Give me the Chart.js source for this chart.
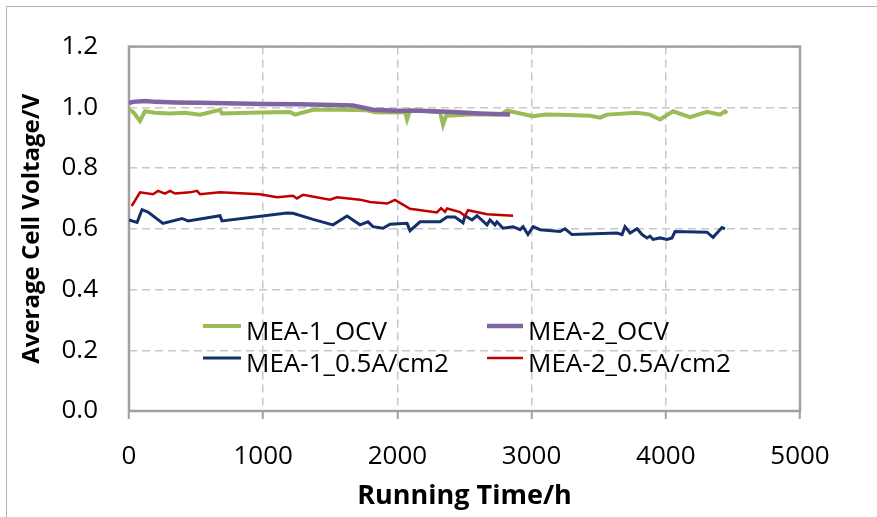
<!DOCTYPE html>
<html><head><meta charset="utf-8">
<script src="https://cdn.jsdelivr.net/npm/chart.js@4"></script>
<style>html,body{margin:0;padding:0;background:#fff;}canvas{display:block;}</style>
</head><body>
<canvas id="c" width="877" height="517"></canvas>
<script>
const seriesNames = ["MEA-1_OCV", "MEA-2_OCV", "MEA-1_0.5A/cm2", "MEA-2_0.5A/cm2"];

const mea1OcvTime = [0, 30, 82, 119, 194, 306, 417, 529, 678, 693, 976, 1200, 1237, 1371, 1572, 1774, 1833, 2019, 2057, 2072, 2094, 2206, 2318, 2340, 2362, 2541, 2765, 2817, 2891, 3011, 3100, 3286, 3435, 3510, 3562, 3786, 3882, 3957, 4054, 4181, 4307, 4404, 4441, 4456];
const mea1OcvVolt = [0.992, 0.985, 0.955, 0.987, 0.982, 0.980, 0.982, 0.976, 0.992, 0.980, 0.983, 0.985, 0.976, 0.992, 0.992, 0.990, 0.984, 0.983, 0.985, 0.960, 0.990, 0.988, 0.984, 0.943, 0.972, 0.976, 0.976, 0.989, 0.982, 0.971, 0.976, 0.975, 0.972, 0.966, 0.976, 0.982, 0.976, 0.960, 0.987, 0.968, 0.985, 0.976, 0.987, 0.980];

const mea2OcvTime = [0, 30, 119, 200, 350, 529, 999, 1274, 1520, 1669, 1818, 1997, 2169, 2414, 2616, 2839];
const mea2OcvVolt = [1.014, 1.018, 1.021, 1.018, 1.016, 1.015, 1.011, 1.010, 1.008, 1.006, 0.992, 0.989, 0.989, 0.985, 0.980, 0.976];

const mea1LoadTime = [0, 60, 97, 142, 253, 395, 440, 678, 693, 1177, 1222, 1371, 1520, 1625, 1721, 1781, 1818, 1893, 1945, 2072, 2094, 2169, 2318, 2370, 2429, 2489, 2504, 2556, 2593, 2668, 2690, 2727, 2742, 2787, 2862, 2914, 2936, 2973, 3011, 3063, 3212, 3249, 3301, 3637, 3674, 3696, 3734, 3786, 3823, 3860, 3882, 3905, 3957, 4009, 4046, 4069, 4307, 4352, 4419, 4441];
const mea1LoadVolt = [0.629, 0.621, 0.663, 0.655, 0.618, 0.634, 0.626, 0.643, 0.626, 0.652, 0.651, 0.631, 0.613, 0.642, 0.613, 0.623, 0.607, 0.602, 0.615, 0.618, 0.594, 0.623, 0.623, 0.639, 0.639, 0.620, 0.643, 0.629, 0.643, 0.613, 0.629, 0.613, 0.623, 0.602, 0.607, 0.597, 0.607, 0.581, 0.607, 0.597, 0.591, 0.600, 0.581, 0.586, 0.581, 0.607, 0.586, 0.600, 0.581, 0.570, 0.576, 0.565, 0.570, 0.565, 0.570, 0.591, 0.589, 0.572, 0.604, 0.600];

const mea2LoadTime = [20, 82, 179, 216, 268, 306, 343, 455, 507, 529, 678, 976, 1103, 1222, 1252, 1297, 1498, 1550, 1721, 1796, 1923, 1982, 2094, 2295, 2325, 2355, 2370, 2467, 2504, 2526, 2668, 2862];
const mea2LoadVolt = [0.675, 0.720, 0.714, 0.725, 0.716, 0.725, 0.716, 0.720, 0.725, 0.714, 0.720, 0.714, 0.704, 0.709, 0.700, 0.712, 0.696, 0.704, 0.696, 0.688, 0.683, 0.695, 0.666, 0.654, 0.668, 0.656, 0.667, 0.655, 0.642, 0.661, 0.648, 0.643];

const xTickValues = [0, 1000, 2000, 3000, 4000, 5000];
const yTickValues = [0, 0.2, 0.4, 0.6, 0.8, 1.0, 1.2];
const xTitle = "Running Time/h";
const yTitle = "Average Cell Voltage/V";

const toPts = (t, v) => t.map((x, i) => ({x: x, y: v[i]}));

const framePlugin = {
  id: 'frame',
  beforeDraw(chart) {
    const c = chart.ctx;
    c.save();
    c.fillStyle = '#fff';
    c.fillRect(0, 0, chart.width, chart.height);
    c.strokeStyle = '#b4b4b4';
    c.lineWidth = 1;
    c.strokeRect(6.5, 6.5, chart.width + 20, chart.height + 20);
    c.restore();
  },
  beforeDatasetsDraw(chart) {
    const c = chart.ctx, a = chart.chartArea;
    c.save();
    c.strokeStyle = '#a0a0a0';
    c.lineWidth = 2.5;
    c.strokeRect(a.left, a.top, a.right - a.left, a.bottom - a.top);
    c.restore();
  },
  afterDraw(chart) {
    const c = chart.ctx;
    const slots = [[203, 326, 38], [487, 326, 36], [203, 358, 38], [487, 358, 36]];
    c.save();
    c.font = "26px 'Open Sans'";
    c.fillStyle = '#000';
    c.textBaseline = 'alphabetic';
    chart.data.datasets.forEach((ds, i) => {
      const [x, y, len] = slots[i];
      c.strokeStyle = ds.borderColor;
      c.lineWidth = ds.borderWidth;
      c.beginPath();
      c.moveTo(x, y);
      c.lineTo(x + len, y);
      c.stroke();
      c.fillText(ds.label, x + len + 5, y + 13.5);
    });
    c.restore();
  }
};

Chart.defaults.font.family = "'Open Sans'";
Chart.defaults.color = '#000';

new Chart(document.getElementById('c'), {
  type: 'scatter',
  data: {
    datasets: [
      {label: seriesNames[0], data: toPts(mea1OcvTime, mea1OcvVolt), borderColor: '#9BBB59', borderWidth: 4, showLine: true, pointRadius: 0, tension: 0, order: 3},
      {label: seriesNames[1], data: toPts(mea2OcvTime, mea2OcvVolt), borderColor: '#8064A2', borderWidth: 4.5, showLine: true, pointRadius: 0, tension: 0, order: 2},
      {label: seriesNames[2], data: toPts(mea1LoadTime, mea1LoadVolt), borderColor: '#14306A', borderWidth: 3, showLine: true, pointRadius: 0, tension: 0, order: 1},
      {label: seriesNames[3], data: toPts(mea2LoadTime, mea2LoadVolt), borderColor: '#C00000', borderWidth: 2.5, showLine: true, pointRadius: 0, tension: 0, order: 0}
    ]
  },
  options: {
    responsive: false,
    animation: false,
    devicePixelRatio: 1,
    layout: {padding: {left: 0, top: 37, right: 77, bottom: 0}},
    plugins: {legend: {display: false}, tooltip: {enabled: false}},
    scales: {
      x: {
        type: 'linear', min: 0, max: 5000,
        afterBuildTicks: s => { s.ticks = xTickValues.map(v => ({value: v})); },
        afterFit: s => { s.height = 106; },
        ticks: {callback: v => String(v), font: {size: 26}, color: '#000', padding: 22, maxRotation: 0, autoSkip: false},
        grid: {color: '#c8c8c8', lineWidth: 1.5, tickLength: 8, tickColor: '#a0a0a0', tickWidth: 2, tickBorderDash: []},
        border: {display: false, dash: [8, 5]},
        title: {display: true, text: xTitle, font: {size: 27, weight: 'bold', lineHeight: 1.5}, color: '#000', padding: 0}
      },
      y: {
        type: 'linear', min: 0, max: 1.2,
        afterBuildTicks: s => { s.ticks = yTickValues.map(v => ({value: v})); },
        afterFit: s => { s.width = 129; },
        ticks: {callback: v => Number(v).toFixed(1), font: {size: 26}, color: '#000', padding: 31},
        grid: {color: '#c8c8c8', lineWidth: 1.5, drawTicks: false},
        border: {display: false, dash: [8, 5]},
        title: {display: true, text: yTitle, font: {size: 24, weight: 'bold', lineHeight: 2.67}, color: '#000', padding: 0}
      }
    }
  },
  plugins: [framePlugin]
});
</script>
</body></html>
